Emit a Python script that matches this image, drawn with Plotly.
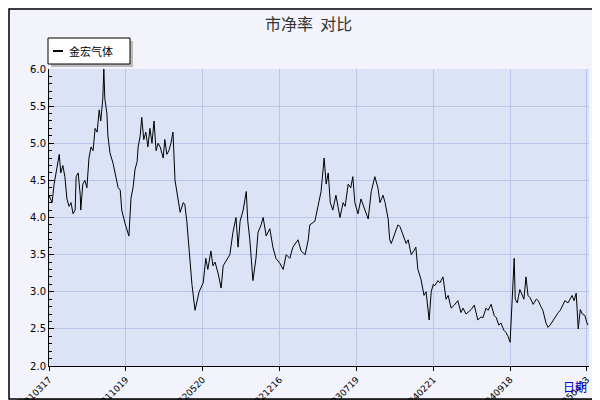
import plotly.graph_objects as go

day_index = [0,6,10,16,20,23,27,31,35,39,43,47,51,53,57,61,62,66,70,74,78,82,86,90,94,98,101,105,107,109,113,115,119,125,131,135,139,142,148,152,156,160,164,168,172,174,178,181,185,189,193,197,201,205,209,213,217,223,226,230,234,238,242,246,252,256,262,265,269,275,279,285,289,293,301,306,310,316,320,324,330,336,340,344,349,353,359,365,369,373,379,385,388,392,398,404,408,414,418,424,431,437,443,451,457,463,470,476,486,492,500,506,509,519,525,531,537,541,545,549,554,560,568,574,578,584,589,593,597,603,609,617,623,629,636,642,646,652,656,662,665,668,675,681,685,691,697,701,707,712,716,720,726,732,736,742,746,750,753,759,763,769,775,779,785,791,798,804,808,814,818,824,830,837,843,847,853,857,863,869,873,878,882,888,892,896,900,904,908,910,914,919,923,927,931,935,939,945,951,955,960,964,970,974,978,984,990,994,998,1003,1007,1013,1017,1021,1025,1029,1033,1037,1041,1046,1050,1052]
pb_values = [4.3,4.2,4.45,4.7,4.85,4.6,4.7,4.55,4.25,4.15,4.2,4.05,4.1,4.55,4.6,4.3,4.1,4.45,4.5,4.4,4.8,4.95,4.9,5.2,5.15,5.45,5.3,5.6,6.0,5.6,5.4,5.1,4.87,4.73,4.55,4.4,4.37,4.1,3.93,3.85,3.75,4.26,4.4,4.65,4.75,4.95,5.1,5.35,5.05,5.15,4.95,5.2,5.0,5.3,4.9,5.0,4.95,4.8,5.05,4.85,4.9,5.0,5.15,4.5,4.27,4.07,4.2,4.18,3.95,3.37,3.1,2.75,2.9,3.0,3.12,3.45,3.3,3.55,3.35,3.4,3.25,3.05,3.35,3.4,3.45,3.5,3.8,4.0,3.6,3.95,4.1,4.35,3.95,3.7,3.15,3.45,3.8,3.9,4.0,3.75,3.85,3.6,3.45,3.38,3.3,3.5,3.45,3.6,3.7,3.55,3.5,3.7,3.9,3.95,4.15,4.35,4.8,4.45,4.6,4.2,4.1,4.3,4.0,4.2,4.15,4.45,4.4,4.55,4.2,4.05,4.25,4.1,3.98,4.35,4.55,4.4,4.2,4.3,4.2,3.98,3.7,3.65,3.8,3.9,3.88,3.75,3.65,3.7,3.5,3.55,3.6,3.3,3.17,2.95,3.0,2.62,3.0,3.1,3.08,3.15,3.12,3.2,2.9,2.95,2.78,2.82,2.88,2.72,2.78,2.7,2.73,2.76,2.82,2.62,2.66,2.65,2.78,2.75,2.83,2.68,2.65,2.55,2.58,2.48,2.45,2.4,2.32,2.82,3.45,2.9,2.85,3.03,2.95,2.9,3.2,2.95,2.92,2.83,2.9,2.88,2.8,2.75,2.58,2.52,2.55,2.62,2.68,2.72,2.75,2.82,2.88,2.85,2.9,2.95,2.88,2.98,2.5,2.76,2.7,2.68,2.58,2.55]
tick_index = [0,150,300,450,600,750,900,1050]
tick_labels = ["20210317","20211019","20220520","20221216","20230719","20240221","20240918","20250423"]

fig = go.Figure()
fig.add_trace(go.Scatter(x=day_index, y=pb_values, mode="lines", name="金宏气体",
                         line=dict(color="black", width=1)))

L, R, T, B = 41, 19, 61, 42
W, H = 600 - L - R, 400 - T - B
def px(x): return (x - L) / W
def py(y): return (400 - B - y) / H

shapes = [
    dict(type="rect", xref="paper", yref="paper", x0=px(590), x1=px(600), y0=py(400), y1=py(9),
         fillcolor="#777777", line_width=0, layer="below"),
    dict(type="rect", xref="paper", yref="paper", x0=px(9), x1=px(600), y0=py(400), y1=py(391),
         fillcolor="#777777", line_width=0, layer="below"),
    dict(type="rect", xref="paper", yref="paper", x0=px(1), x1=px(590), y0=py(391), y1=py(1),
         fillcolor="rgba(0,0,0,0)", line=dict(color="black", width=1.5), layer="below"),
    dict(type="rect", xref="paper", yref="paper", x0=px(43), x1=px(125), y0=py(59), y1=py(33),
         fillcolor="#bbbbbb", line_width=0),
    dict(type="rect", xref="paper", yref="paper", x0=px(40), x1=px(122), y0=py(56), y1=py(30),
         fillcolor="white", line=dict(color="black", width=1)),
    dict(type="line", xref="paper", yref="paper", x0=px(45), x1=px(55), y0=py(43), y1=py(43),
         line=dict(color="black", width=2)),
]

fig.update_layout(
    width=600, height=400, margin=dict(l=L, r=R, t=T, b=B, autoexpand=False),
    paper_bgcolor="#f2f3fb", plot_bgcolor="#dce3f7",
    showlegend=False, shapes=shapes,
    font=dict(family="DejaVu Sans", size=10, color="black"),
    annotations=[
        dict(text="市净率  对比", xref="paper", yref="paper", x=px(300), y=py(15), xanchor="center",
             yanchor="middle", showarrow=False, font=dict(family="Noto Sans CJK SC", size=16, color="#333333")),
        dict(text="金宏气体", xref="paper", yref="paper", x=px(59), y=py(43), xanchor="left",
             yanchor="middle", showarrow=False, font=dict(family="Noto Sans CJK SC", size=11)),
        dict(text="日期", xref="paper", yref="paper", x=px(581), y=py(378), xanchor="right",
             yanchor="middle", showarrow=False, font=dict(family="Noto Sans CJK SC", size=12, color="#0000cc")),
    ],
    xaxis=dict(range=[0, 1054], tickvals=tick_index, ticktext=tick_labels, tickangle=-45,
               automargin=False,
               showgrid=True, gridcolor="#b8c4e8", ticks="outside", ticklen=4, tickcolor="black",
               showline=True, linecolor="black", zeroline=False, tickfont=dict(size=9)),
    yaxis=dict(range=[2.0, 6.0], dtick=0.5, tickformat=".1f", showgrid=True, gridcolor="#b8c4e8",
               automargin=False,
               ticks="inside", ticklen=5, tickcolor="black", showline=True, linecolor="black",
               zeroline=False, minor=dict(dtick=0.1, ticks="inside", ticklen=3, tickcolor="black", showgrid=False)),
)
fig.write_html("out.html")
